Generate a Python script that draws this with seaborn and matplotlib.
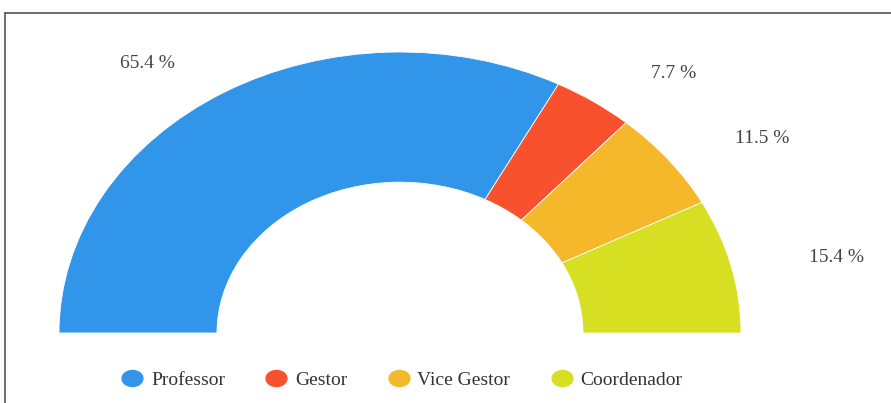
import numpy as np
import seaborn as sns
import matplotlib.pyplot as plt
from matplotlib.lines import Line2D
from matplotlib.path import Path

sns.set_theme(style="white")
plt.rcParams['font.family'] = ['Liberation Serif', 'DejaVu Serif']

# dados
categorias = ['Professor', 'Gestor', 'Vice Gestor', 'Coordenador']
contagens = [17, 2, 3, 4]
percentuais = [65.4, 7.7, 11.5, 15.4]
cores = ['#3196EA', '#F7512D', '#F6B82B', '#D7DF22']

fig = plt.figure(figsize=(8.91, 4.03), dpi=100)
ax = fig.add_axes([0, 0, 1, 1])

# meia rosca: metade de baixo invisivel
total = sum(contagens)
wedges, _ = ax.pie(contagens + [total], colors=cores + ['none'],
                   startangle=180, counterclock=False, radius=1,
                   wedgeprops=dict(width=1 - 183 / 341, edgecolor='white', linewidth=0.6))
wedges[-1].set_edgecolor('none')

# o grafico original e esticado na horizontal
ax.set_aspect('auto')
ax.set_xlim(-400 / 341, 491 / 341)
ax.set_ylim(-70 / 281, 333 / 281)
ax.axis('off')

# rotulos de percentual
for w, p in zip(wedges[:-1], percentuais):
    ang = np.deg2rad((w.theta1 + w.theta2) / 2)
    x = 1.19 * np.cos(ang) + 0.125 * np.sign(np.cos(ang))
    y = 1.12 * np.sin(ang)
    ax.text(x, y, f'{p} %', ha='center', va='center', fontsize=14, color='#444444')

# legenda (marcadores elipticos, como no original)
circ = Path.unit_circle()
elipse = Path(circ.vertices * [1.3, 1.0], circ.codes)
handles = [Line2D([0], [0], marker=elipse, linestyle='', markersize=15,
                  markerfacecolor=c, markeredgecolor=c) for c in cores]
ax.legend(handles, categorias, ncol=4, loc='center', bbox_to_anchor=(400 / 891, 0.057),
          frameon=False, fontsize=14, handlelength=1.5, handletextpad=0.2,
          columnspacing=1.9, labelcolor='#333333')

# moldura
fig.add_artist(Line2D([4.5 / 891, 1], [1 - 13 / 403, 1 - 13 / 403],
                      transform=fig.transFigure, color='#555555', linewidth=1.2))
fig.add_artist(Line2D([4.5 / 891, 4.5 / 891], [0, 1 - 13 / 403],
                      transform=fig.transFigure, color='#555555', linewidth=1.2))

fig.savefig('out.png', dpi=100)
